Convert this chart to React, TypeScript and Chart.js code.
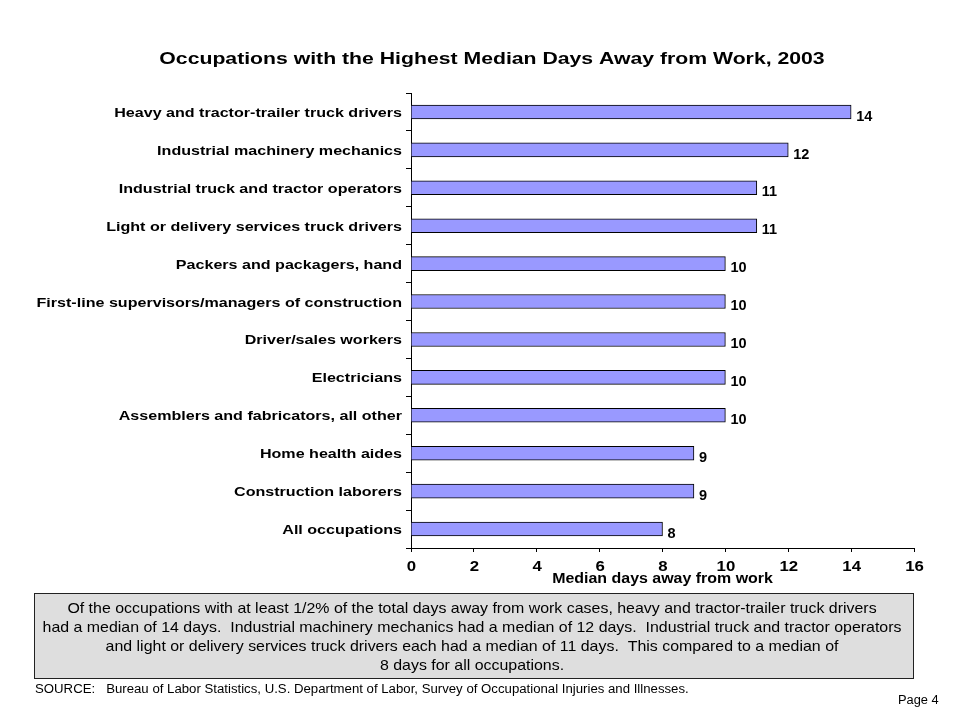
import React, { useEffect, useRef } from "react";
import { Chart, registerables } from "chart.js";

Chart.register(...registerables);

const categories = [
  "Heavy and tractor-trailer truck drivers",
  "Industrial machinery mechanics",
  "Industrial truck and tractor operators",
  "Light or delivery services truck drivers",
  "Packers and packagers, hand",
  "First-line supervisors/managers of construction",
  "Driver/sales workers",
  "Electricians",
  "Assemblers and fabricators, all other",
  "Home health aides",
  "Construction laborers",
  "All occupations",
];
const medianDays = [14, 12, 11, 11, 10, 10, 10, 10, 10, 9, 9, 8];
const xTickValues = [0, 2, 4, 6, 8, 10, 12, 14, 16];

const titleText = "Occupations with the Highest Median Days Away from Work, 2003";
const xAxisTitle = "Median days away from work";
const noteLines = [
  "Of the occupations with at least 1/2% of the total days away from work cases, heavy and tractor-trailer truck drivers",
  "had a median of 14 days.  Industrial machinery mechanics had a median of 12 days.  Industrial truck and tractor operators",
  "and light or delivery services truck drivers each had a median of 11 days.  This compared to a median of",
  "8 days for all occupations.",
];
const sourceText = "SOURCE:   Bureau of Labor Statistics, U.S. Department of Labor, Survey of Occupational Injuries and Illnesses.";
const pageText = "Page 4";

const FONT = "'Liberation Sans', Arial, Helvetica, sans-serif";

function txt(
  ctx: CanvasRenderingContext2D,
  s: string,
  x: number,
  y: number,
  font: string,
  align: CanvasTextAlign,
  sx: number
) {
  ctx.save();
  ctx.font = font;
  ctx.textBaseline = "alphabetic";
  ctx.textAlign = align;
  ctx.translate(x, y);
  ctx.scale(sx, 1);
  ctx.fillText(s, 0, 0);
  ctx.restore();
}

const decorPlugin = {
  id: "decor",
  afterDatasetsDraw(chart: any) {
    const ctx = chart.ctx;
    const meta = chart.getDatasetMeta(0);
    ctx.save();
    ctx.fillStyle = "#000";
    meta.data.forEach((bar: any, i: number) => {
      txt(ctx, String(medianDays[i]), bar.x + 5, bar.y + 8.7, `bold 14.5px ${FONT}`, "left", 1);
    });
    ctx.restore();
  },
  afterDraw(chart: any) {
    const ctx = chart.ctx;
    const area = chart.chartArea;
    const xs = chart.scales.x;
    const ys = chart.scales.y;
    ctx.save();
    ctx.fillStyle = "#000";
    // title
    txt(ctx, titleText, 492, 64, `bold 17px ${FONT}`, "center", 1.248);
    // category labels
    categories.forEach((c, i) => {
      txt(ctx, c, 402, ys.getPixelForValue(i) + 5, `bold 13px ${FONT}`, "right", 1.237);
    });
    // x tick labels
    xTickValues.forEach((v) => {
      txt(ctx, String(v), xs.getPixelForValue(v) + 0.5, 571, `bold 14px ${FONT}`, "center", 1.2);
    });
    // x axis title
    txt(ctx, xAxisTitle, (area.left + area.right) / 2, 583.3, `bold 14.5px ${FONT}`, "center", 1.1);
    // note box
    ctx.fillStyle = "#DEDEDE";
    ctx.fillRect(34, 593, 880, 86);
    ctx.strokeStyle = "#222";
    ctx.lineWidth = 1;
    ctx.strokeRect(34.5, 593.5, 879, 85);
    ctx.fillStyle = "#000";
    noteLines.forEach((l, i) => {
      txt(ctx, l, 472, 613.3 + i * 19, `15px ${FONT}`, "center", 1.062);
    });
    // source
    txt(ctx, sourceText, 35, 693, `12px ${FONT}`, "left", 1.1);
    txt(ctx, pageText, 898, 704.3, `12px ${FONT}`, "left", 1.07);
    ctx.restore();
  },
};

export default function App() {
  const ref = useRef<HTMLCanvasElement | null>(null);
  useEffect(() => {
    if (!ref.current) return;
    const chart = new Chart(ref.current, {
      type: "bar",
      data: {
        labels: categories,
        datasets: [
          {
            data: medianDays,
            backgroundColor: "#9999FF",
            borderColor: "#000",
            borderWidth: 1,
            barThickness: 14,
          },
        ],
      },
      options: {
        indexAxis: "y",
        responsive: false,
        animation: false,
        layout: { padding: { left: 0, right: 46, top: 93, bottom: 132 } },
        plugins: {
          legend: { display: false },
          tooltip: { enabled: false },
          title: { display: false },
        },
        scales: {
          x: {
            min: xTickValues[0],
            max: xTickValues[xTickValues.length - 1],
            afterFit: (s: any) => {
              s.height = 40;
            },
            ticks: {
              stepSize: xTickValues[1] - xTickValues[0],
              color: "rgba(0,0,0,0)",
              font: { family: FONT, size: 13, weight: "bold" },
            },
            grid: {
              display: true,
              drawOnChartArea: false,
              drawTicks: true,
              tickLength: 4,
              color: "#000",
            },
            border: { display: true, color: "#000", width: 1 },
          },
          y: {
            afterFit: (s: any) => {
              s.width = 411;
            },
            ticks: {
              color: "rgba(0,0,0,0)",
              font: { family: FONT, size: 13, weight: "bold" },
              autoSkip: false,
            },
            grid: {
              display: true,
              offset: true,
              drawOnChartArea: false,
              drawTicks: true,
              tickLength: 5,
              color: "#000",
            },
            border: { display: true, color: "#000", width: 1 },
          },
        },
      },
      plugins: [decorPlugin],
    } as any);
    return () => chart.destroy();
  }, []);
  return (
    <canvas
      ref={ref}
      width={960}
      height={720}
      style={{ position: "absolute", left: 0, top: 0, background: "#fff" }}
    />
  );
}
